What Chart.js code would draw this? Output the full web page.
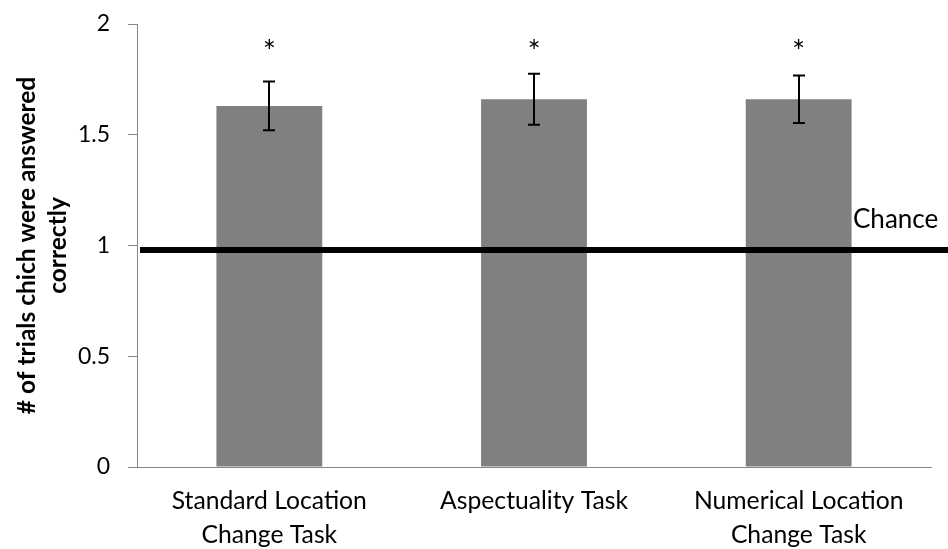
<!DOCTYPE html>
<html>
<head>
<meta charset="utf-8">
<script src="https://cdn.jsdelivr.net/npm/chart.js@4/dist/chart.umd.min.js"></script>
<style>
  html, body { margin: 0; padding: 0; background: #ffffff; }
  #wrap { width: 948px; height: 549px; }
</style>
</head>
<body>
<div id="wrap"><canvas id="chart" width="948" height="549"></canvas></div>
<script>
// Task categories (multi-line labels as arrays)
const categories = [
  ['Standard Location', 'Change Task'],
  'Aspectuality Task',
  ['Numerical Location', 'Change Task']
];
// Mean number of trials answered correctly per task
const meanCorrect = [1.63, 1.66, 1.66];
// Error bar half-widths
const errorMargin = [0.11, 0.115, 0.107];
// Significance markers above each bar
const significance = ['*', '*', '*'];
// Height (in axis units) at which the markers sit
const markerLevel = [1.91, 1.91, 1.91];
// Chance level reference
const chanceLevel = 0.98;
const chanceLabel = 'Chance';
// Y axis ticks
const yTicks = [0, 0.5, 1, 1.5, 2];
const yTitle = ['# of trials chich were answered', 'correctly'];

const FONT = 'Lato, "Open Sans", sans-serif';
const AXIS_GREY = '#868686';

// Error bars, chance line, chance label and significance markers
const overlayPlugin = {
  id: 'overlay',
  afterDatasetsDraw(chart) {
    const { ctx, chartArea, scales: { y } } = chart;
    const meta = chart.getDatasetMeta(0);
    ctx.save();

    // error bars
    ctx.strokeStyle = '#000000';
    ctx.lineWidth = 2;
    meta.data.forEach((bar, i) => {
      const cx = Math.round(bar.x);
      const yHi = y.getPixelForValue(meanCorrect[i] + errorMargin[i]);
      const yLo = y.getPixelForValue(meanCorrect[i] - errorMargin[i]);
      const cap = 6;
      ctx.beginPath();
      ctx.moveTo(cx, yHi); ctx.lineTo(cx, yLo);
      ctx.moveTo(cx - cap, yHi); ctx.lineTo(cx + cap, yHi);
      ctx.moveTo(cx - cap, yLo); ctx.lineTo(cx + cap, yLo);
      ctx.stroke();
    });

    // chance line, running past the plot to the canvas edge
    const yc = y.getPixelForValue(chanceLevel);
    ctx.lineWidth = 6;
    ctx.beginPath();
    ctx.moveTo(chartArea.left + 3, yc);
    ctx.lineTo(chart.width, yc);
    ctx.stroke();

    // chance label
    ctx.fillStyle = '#000000';
    ctx.font = '26px ' + FONT;
    ctx.textAlign = 'left';
    ctx.textBaseline = 'alphabetic';
    ctx.fillText(chanceLabel, chartArea.right - 78, yc - 22);

    // significance markers, glyph centred on its level
    ctx.font = '31px ' + FONT;
    ctx.textAlign = 'center';
    meta.data.forEach((bar, i) => {
      const m = ctx.measureText(significance[i]);
      const py = y.getPixelForValue(markerLevel[i]);
      const baseline = py + (m.actualBoundingBoxAscent - m.actualBoundingBoxDescent) / 2;
      ctx.fillText(significance[i], bar.x, baseline);
    });

    ctx.restore();
  }
};

new Chart(document.getElementById('chart'), {
  type: 'bar',
  data: {
    labels: categories,
    datasets: [{
      data: meanCorrect,
      backgroundColor: '#808080',
      borderWidth: 0,
      barPercentage: 0.4,
      categoryPercentage: 1.0
    }]
  },
  options: {
    responsive: false,
    animation: false,
    devicePixelRatio: 1,
    layout: { padding: { left: 0, top: 24, right: 17, bottom: 0 } },
    plugins: {
      legend: { display: false },
      tooltip: { enabled: false }
    },
    scales: {
      x: {
        offset: true,
        grid: { display: false, drawTicks: false, tickLength: 0 },
        border: { display: true, color: AXIS_GREY, width: 1 },
        ticks: {
          color: '#000000',
          font: { family: FONT, size: 24.7, lineHeight: 1.38 },
          padding: 17,
          maxRotation: 0,
          autoSkip: false
        },
        afterFit(scale) { scale.height = 549 - 467; }
      },
      y: {
        min: 0,
        max: 2,
        afterBuildTicks(scale) { scale.ticks = yTicks.map(v => ({ value: v })); },
        grid: {
          display: true,
          drawOnChartArea: false,
          drawTicks: true,
          tickLength: 9,
          color: AXIS_GREY
        },
        border: { display: true, color: AXIS_GREY, width: 1 },
        ticks: {
          color: '#000000',
          font: { family: FONT, size: 23 },
          padding: 18,
          callback: (v) => String(v)
        },
        title: {
          display: true,
          text: yTitle,
          color: '#000000',
          font: { family: FONT, size: 24.5, weight: 'bold', lineHeight: 1.25 },
          padding: { top: 12, bottom: 0 }
        },
        afterFit(scale) {
          scale.width = 137;
          scale.paddingTop = 0;
          scale.paddingBottom = 0;
        }
      }
    }
  },
  plugins: [overlayPlugin]
});
</script>
</body>
</html>
